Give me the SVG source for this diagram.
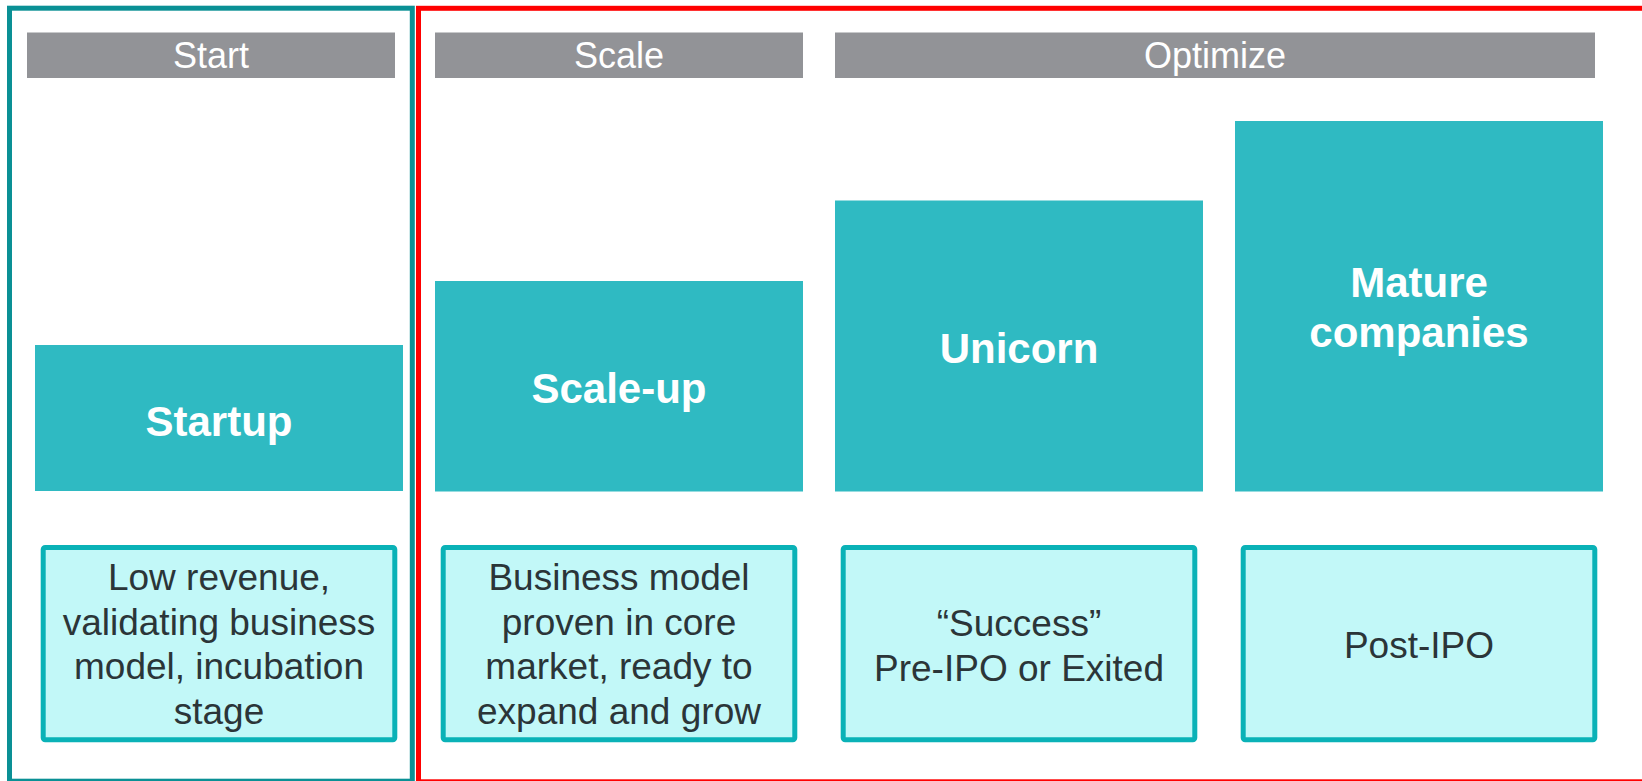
<svg xmlns="http://www.w3.org/2000/svg" width="1642" height="781" viewBox="0 0 1642 781">
  <style>
    .frame { fill: none; stroke-width: 5; }
    .hdr { fill: #929397; }
    .hdr-t { font-family: "Liberation Sans", Arial, sans-serif; font-size: 36px; fill: #ffffff; text-anchor: middle; }
    .node { fill: #2fbac2; }
    .node-t { font-family: "Liberation Sans", Arial, sans-serif; font-size: 42px; font-weight: bold; fill: #ffffff; text-anchor: middle; }
    .desc { fill: #c2f8f8; stroke: #0ab2b7; stroke-width: 5; }
    .desc-t { font-family: "Liberation Sans", Arial, sans-serif; font-size: 37px; fill: #2b3538; text-anchor: middle; }
  </style>

  <rect width="1642" height="781" fill="#ffffff"/>

  <!-- phase frames -->
  <g id="frames">
    <rect class="frame" x="9.5" y="8.2" width="402.8" height="773" stroke="#0a9095"/>
    <rect class="frame" x="418.5" y="8.3" width="1240" height="773.5" stroke="#ff0000"/>
  </g>

  <!-- phase headers -->
  <g id="header-start">
    <rect class="hdr" x="27" y="32.5" width="368" height="45.5"/>
    <text class="hdr-t" x="211" y="68">Start</text>
  </g>
  <g id="header-scale">
    <rect class="hdr" x="435" y="32.5" width="368" height="45.5"/>
    <text class="hdr-t" x="619" y="68">Scale</text>
  </g>
  <g id="header-optimize">
    <rect class="hdr" x="835" y="32.5" width="760" height="45.5"/>
    <text class="hdr-t" x="1215" y="68">Optimize</text>
  </g>

  <!-- stage blocks -->
  <g id="startup">
    <rect class="node" x="35" y="345" width="368" height="146"/>
    <text class="node-t" x="219" y="436">Startup</text>
  </g>
  <g id="scale-up">
    <rect class="node" x="435" y="281" width="368" height="210.5"/>
    <text class="node-t" x="619" y="403">Scale-up</text>
  </g>
  <g id="unicorn">
    <rect class="node" x="835" y="200.5" width="368" height="291"/>
    <text class="node-t" x="1019" y="363">Unicorn</text>
  </g>
  <g id="mature">
    <rect class="node" x="1235" y="121" width="368" height="370.5"/>
    <text class="node-t" x="1419" y="296.5">Mature</text>
    <text class="node-t" x="1419" y="346.5">companies</text>
  </g>

  <!-- stage descriptions -->
  <g id="desc-startup">
    <rect class="desc" x="43.2" y="547.5" width="351.6" height="192.3" rx="2"/>
    <text class="desc-t" x="219" y="590">Low revenue,</text>
    <text class="desc-t" x="219" y="634.5">validating business</text>
    <text class="desc-t" x="219" y="679">model, incubation</text>
    <text class="desc-t" x="219" y="723.5">stage</text>
  </g>
  <g id="desc-scale-up">
    <rect class="desc" x="443.2" y="547.5" width="351.6" height="192.3" rx="2"/>
    <text class="desc-t" x="619" y="590">Business model</text>
    <text class="desc-t" x="619" y="634.5">proven in core</text>
    <text class="desc-t" x="619" y="679">market, ready to</text>
    <text class="desc-t" x="619" y="723.5">expand and grow</text>
  </g>
  <g id="desc-unicorn">
    <rect class="desc" x="843.2" y="547.5" width="351.6" height="192.3" rx="2"/>
    <text class="desc-t" x="1019" y="636">“Success”</text>
    <text class="desc-t" x="1019" y="680.5">Pre-IPO or Exited</text>
  </g>
  <g id="desc-mature">
    <rect class="desc" x="1243.2" y="547.5" width="351.6" height="192.3" rx="2"/>
    <text class="desc-t" x="1419" y="658.3">Post-IPO</text>
  </g>
</svg>
